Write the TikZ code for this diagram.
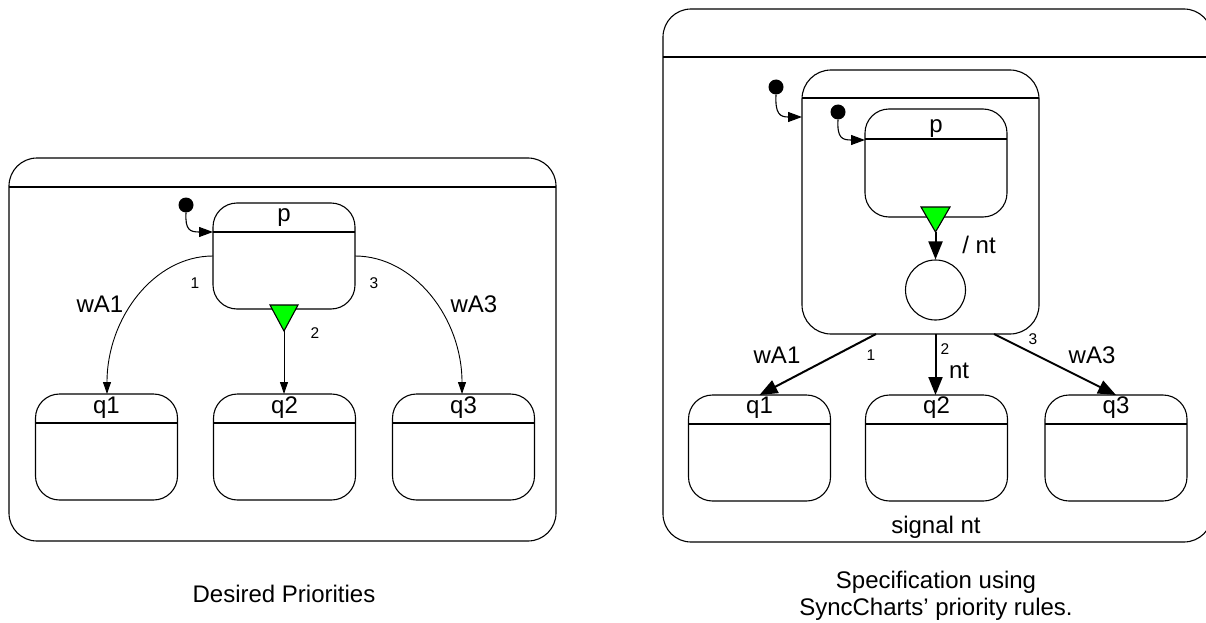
\documentclass[tikz,border=0pt]{standalone}
\usepackage{fontspec}
\setmainfont{Liberation Sans}
\usetikzlibrary{arrows.meta,calc}
\begin{document}
\begin{tikzpicture}[x=1pt,y=-1pt,
  lw/.style={line width=1.1pt},
  statebox/.style={draw, lw, rounded corners=24pt, inner sep=0pt, outer sep=0pt,
                   minimum width=142pt, minimum height=106pt},
  bigbox/.style={draw, lw, rounded corners=28pt, inner sep=0pt, outer sep=0pt},
  initdot/.style={circle, fill=black, inner sep=0pt, minimum size=15pt},
  initarrow/.style={lw, -{Triangle[length=14pt,width=10pt]}},
  thinarrow/.style={line width=0.9pt, -{Triangle[length=12pt,width=8pt]}},
  thickarrow/.style={line width=2pt, -{Triangle[length=18pt,width=14pt]}},
  lab/.style={font=\fontsize{24}{28}\selectfont, anchor=base, inner sep=0pt},
  small/.style={font=\fontsize{15.5}{18}\selectfont, anchor=base, inner sep=0pt},
  trig/.style={draw, lw, fill=green, line join=miter}
]
\useasboundingbox (0,0) rectangle (1206,623);
\clip (0,0) rectangle (1206,623);

% ================= LEFT =================
\node[bigbox, minimum width=547pt, minimum height=383pt] (L) at (282.5,349.5) {};
\draw[lw] (L.west |- 0,187) -- (L.east |- 0,187);

\node[statebox] (pL) at (284,256) {};
\draw[lw] (pL.west |- 0,232) -- (pL.east |- 0,232);
\node[lab] (pLl) at (284,221) {p};

\node[statebox] (q1L) at (106.5,447) {};
\node[statebox] (q2L) at (284.5,447) {};
\node[statebox] (q3L) at (463.5,447) {};
\draw[lw] (q1L.west |- 0,423) -- (q1L.east |- 0,423);
\draw[lw] (q2L.west |- 0,423) -- (q2L.east |- 0,423);
\draw[lw] (q3L.west |- 0,423) -- (q3L.east |- 0,423);
\node[lab] (q1Ll) at (106.5,413) {q1};
\node[lab] (q2Ll) at (284.5,413) {q2};
\node[lab] (q3Ll) at (463.5,413) {q3};

\node[initdot] (iL) at (186,205) {};
\draw[initarrow] (iL.south) .. controls (185,230) and (190,232) .. (pL.west |- 0,232);

\draw[trig] (270,305) -- (298,305) -- (284,331) -- cycle;
\coordinate (aL) at (284,331);
\draw[thinarrow] (aL) -- (q2L.north -| aL);

\draw[thinarrow] (pL.west) .. controls (154,256) and (107,318) .. (q1L.north -| 107,0);
\draw[thinarrow] (pL.east) .. controls (414,256) and (462,318) .. (q3L.north -| 462,0);

\node[small] (n1L) at (195,288) {1};
\node[small] (n2L) at (315,338) {2};
\node[small] (n3L) at (374,288) {3};
\node[lab] (wA1L) at (100,312) {wA1};
\node[lab] (wA3L) at (474,312) {wA3};

\node[lab] (capL) at (284,602) {Desired Priorities};

% ================= RIGHT =================
\node[bigbox, minimum width=549pt, minimum height=533pt] (R) at (937.5,275.5) {};
\draw[lw] (R.west |- 0,57) -- (R.east |- 0,57);

\node[bigbox, rounded corners=29pt, minimum width=237pt, minimum height=264pt] (M) at (920.5,202) {};
\draw[lw] (M.west |- 0,98) -- (M.east |- 0,98);

\node[statebox, minimum height=108pt] (pR) at (936,163) {};
\draw[lw] (pR.west |- 0,139) -- (pR.east |- 0,139);
\node[lab] (pRl) at (936,132) {p};

\node[initdot] (iR1) at (776,87) {};
\draw[initarrow] (iR1.south) .. controls (775,114) and (780,117) .. (M.west |- 0,117);
\node[initdot] (iR2) at (838,112) {};
\draw[initarrow] (iR2.south) .. controls (837,138) and (842,140) .. (pR.west |- 0,140);

\draw[trig] (921,207) -- (950,207) -- (935.5,232) -- cycle;
\coordinate (aR) at (935.5,232);
\node[circle, draw, lw, minimum size=60pt, inner sep=0pt] (c) at (935.5,290) {};
\draw[thickarrow] (aR) -- (c.north);
\node[lab] (slnt) at (979,253) {/ nt};

\node[statebox] (q1R) at (759.5,448) {};
\node[statebox] (q2R) at (936.5,448) {};
\node[statebox] (q3R) at (1116,448) {};
\draw[lw] (q1R.west |- 0,424) -- (q1R.east |- 0,424);
\draw[lw] (q2R.west |- 0,424) -- (q2R.east |- 0,424);
\draw[lw] (q3R.west |- 0,424) -- (q3R.east |- 0,424);
\node[lab] (q1Rl) at (759.5,413) {q1};
\node[lab] (q2Rl) at (936.5,413) {q2};
\node[lab] (q3Rl) at (1116,413) {q3};

\draw[thickarrow] (M.south -| 876,0) -- (q1R.north);
\draw[thickarrow] (M.south -| c.center) -- (q2R.north -| c.center);
\draw[thickarrow] (M.south -| 994,0) -- (q3R.north);

\node[small] (n1R) at (871,360) {1};
\node[small] (n2R) at (945,354) {2};
\node[small] (n3R) at (1033,344) {3};
\node[lab] (wA1R) at (777,363) {wA1};
\node[lab] (ntR) at (959,378) {nt};
\node[lab] (wA3R) at (1092,363) {wA3};

\node[lab] (sig) at (936,533) {signal nt};
\node[lab] (capR1) at (936,588) {Specification using};
\node[lab] (capR2) at (936,615) {SyncCharts’ priority rules.};
\end{tikzpicture}
\end{document}
